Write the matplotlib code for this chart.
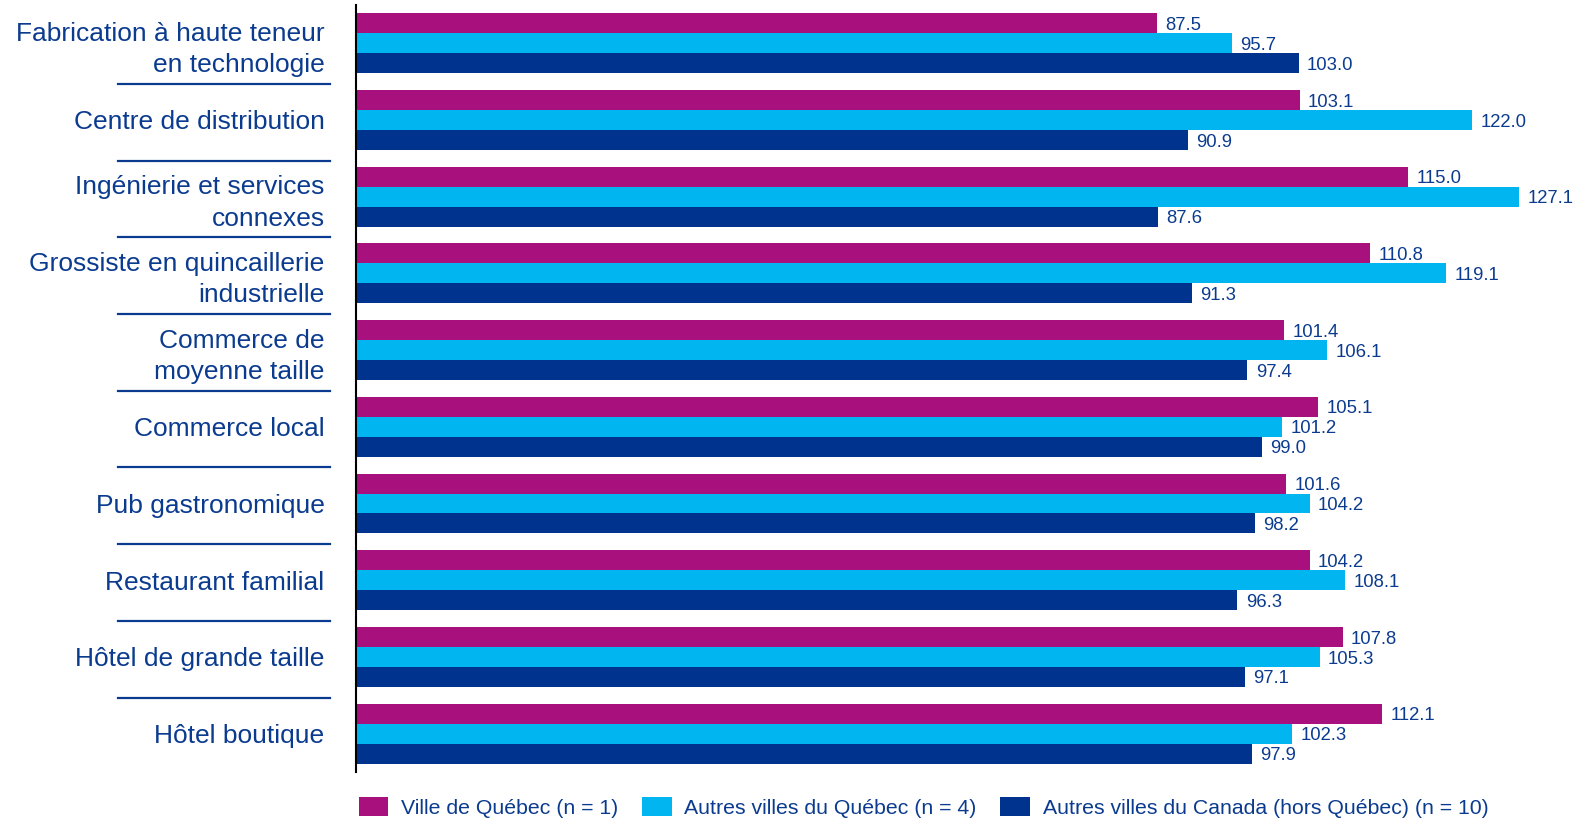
import numpy as np
import matplotlib
matplotlib.use("Agg")
import matplotlib.pyplot as plt
from matplotlib.patches import Patch
from matplotlib.transforms import blended_transform_factory

plt.rcParams['font.family'] = ['Liberation Sans', 'DejaVu Sans']

# Data
categories = [
    "Fabrication à haute teneur\nen technologie",
    "Centre de distribution",
    "Ingénierie et services\nconnexes",
    "Grossiste en quincaillerie\nindustrielle",
    "Commerce de\nmoyenne taille",
    "Commerce local",
    "Pub gastronomique",
    "Restaurant familial",
    "Hôtel de grande taille",
    "Hôtel boutique",
]
ville_quebec = [87.5, 103.1, 115.0, 110.8, 101.4, 105.1, 101.6, 104.2, 107.8, 112.1]
autres_quebec = [95.7, 122.0, 127.1, 119.1, 106.1, 101.2, 104.2, 108.1, 105.3, 102.3]
autres_canada = [103.0, 90.9, 87.6, 91.3, 97.4, 99.0, 98.2, 96.3, 97.1, 97.9]
series_names = [
    "Ville de Québec (n = 1)",
    "Autres villes du Québec (n = 4)",
    "Autres villes du Canada (hors Québec) (n = 10)",
]

colors = ['#A8107E', '#00B5F0', '#00338D']
text_color = '#0B3B8F'

fig = plt.figure(figsize=(15.76, 8.19), dpi=100)
ax = fig.add_axes([0.2262, 0.0574, 0.765, 0.9366])

y = np.arange(len(categories))
h = 0.26
series = [ville_quebec, autres_quebec, autres_canada]
for i, (vals, col) in enumerate(zip(series, colors)):
    bars = ax.barh(y + (i - 1) * h, vals, height=h, color=col)
    labels = ax.bar_label(bars, fmt='%.1f', padding=6, fontsize=13.3, color=text_color)
    for lab in labels:
        lab.xyann = (6, -1.5)

ax.set_ylim(len(categories) - 0.5, -0.5)
ax.set_xlim(0, 131.8)

ax.set_yticks(y)
ax.set_yticklabels(categories, fontsize=19, color=text_color,
                   multialignment='right', linespacing=1.4)
ax.tick_params(axis='y', length=0, pad=23)
ax.set_xticks([])

for s in ['top', 'right', 'bottom']:
    ax.spines[s].set_visible(False)
ax.spines['left'].set_linewidth(1.5)
ax.spines['left'].set_color('black')

# separator lines between category labels
trans = blended_transform_factory(fig.transFigure, ax.transData)
for b in np.arange(0.5, len(categories) - 1, 1.0):
    ax.plot([118 / 1576, 330 / 1576], [b + 0.03, b + 0.03], transform=trans,
            color=text_color, lw=1.6, clip_on=False)

handles = [Patch(facecolor=c) for c in colors]
leg = fig.legend(handles, series_names, loc='center', ncol=3,
                 bbox_to_anchor=(0.586, 0.014), frameon=False,
                 fontsize=15.3, handlelength=1.4, handleheight=1.0,
                 handletextpad=0.6, columnspacing=1.1)
for t in leg.get_texts():
    t.set_color(text_color)

fig.savefig('out.png', dpi=100)
